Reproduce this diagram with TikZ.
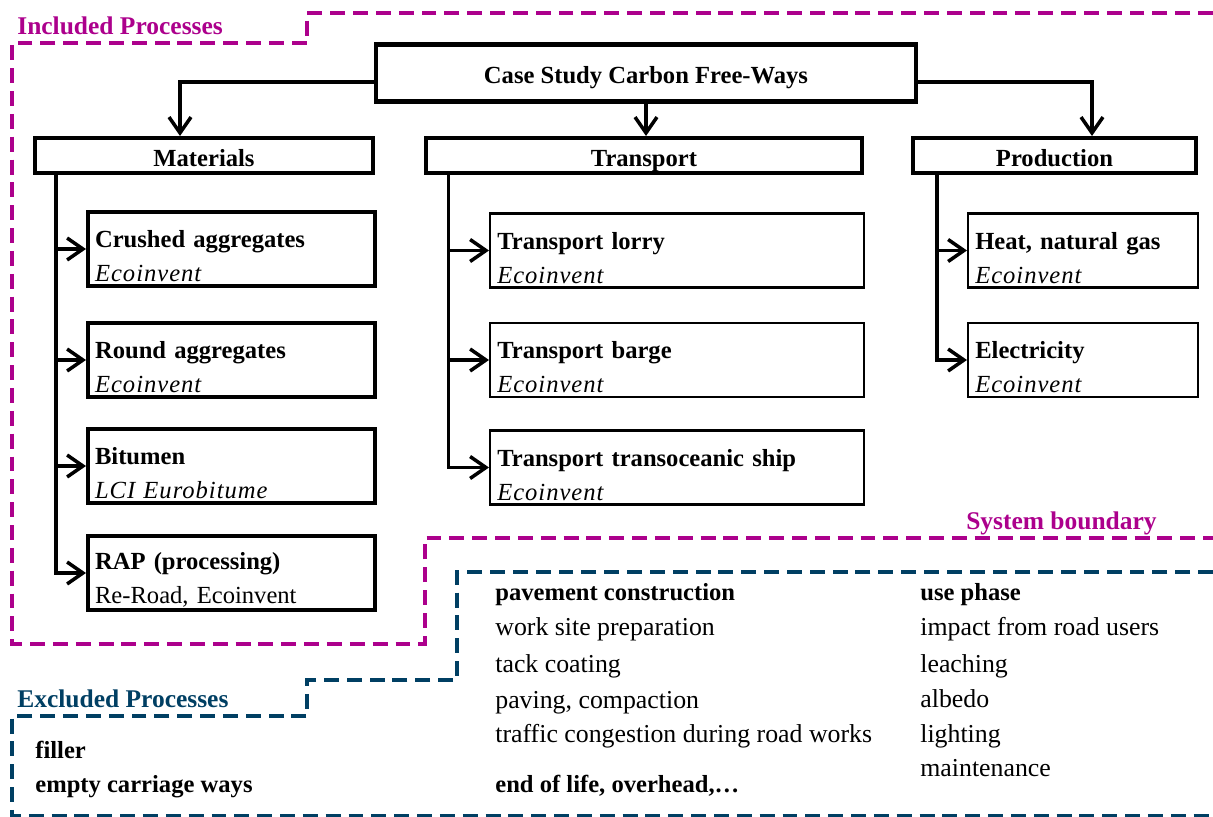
\documentclass[tikz,border=0pt]{standalone}
\usepackage{fontspec}
\setmainfont{Liberation Serif}
\usetikzlibrary{positioning,arrows.meta,calc}
\definecolor{inclmag}{RGB}{172,0,140}
\definecolor{exclblue}{RGB}{0,63,99}
\newcommand{\cfwfont}{\fontsize{14}{19.3}\selectfont}
\newcommand{\src}[1]{{\itshape\addfontfeature{LetterSpace=4}#1}}
\tikzset{>={Straight Barb[length=9pt,width=12.5pt]}}

\begin{document}
\begin{tikzpicture}[x=0.02cm,y=-0.02cm,font=\cfwfont,
  hdbox/.style={draw,line width=2.3pt,font=\cfwfont\bfseries,inner sep=0pt,minimum height=0.7cm,
    text height=12pt,text depth=0pt},
  proc/.style={draw,line width=2.3pt,anchor=west,align=left,inner xsep=4pt,inner ysep=0pt,
    minimum height=1.48cm,execute at begin node={\rule{0pt}{18pt}}},
  lightproc/.style={proc,line width=1.4pt},
  link/.style={->,line width=2pt},
  boundary/.style={line width=2pt,dash pattern=on 8.5pt off 4.5pt},
  item/.style={anchor=base west,inner sep=0pt},
  entry/.style={item,font=\fontsize{14.7}{19.3}\selectfont},
  tag/.style={item,font=\fontsize{14.5}{19.3}\selectfont\bfseries}]
\useasboundingbox (0,0) rectangle (1213,817);
% system boundaries
\draw[boundary,inclmag] (1213,13) -- (307,13) -- (307,43) -- (12,43) -- (12,644)
  -- (425,644) -- (425,538) -- (1213,538);
\draw[boundary,exclblue] (1213,572) -- (457,572) -- (457,680) -- (307,680) -- (307,716)
  -- (12,716) -- (12,816) -- (1213,816);
\node[tag,inclmag] (incl) at (17,35) {Included Processes};
\node[tag,exclblue] (excl) at (17,707) {Excluded Processes};
\node[tag,inclmag,anchor=base east] (sysb) at (1157,529) {System boundary};
% top level
\node[hdbox,minimum width=10.8cm,minimum height=1.14cm] (case) at (646,73) {Case Study Carbon Free-Ways};
\node[hdbox,minimum width=6.76cm] (mat) at (204,155.5) {Materials};
\node[hdbox,minimum width=8.74cm] (trans) at (644,155.5) {Transport};
\node[hdbox,minimum width=5.66cm] (prod) at (1054.5,155.5) {Production};
\draw[link] ([yshift=-0.18cm]case.west) -| ([xshift=-0.48cm]mat.north);
\draw[link] (case.south) -- (case.south |- trans.north);
\draw[link] ([yshift=-0.18cm]case.east) -| ([xshift=0.75cm]prod.north);
% materials
\node[proc,text width=5.46cm] (crushed) at (86,249) {\textbf{Crushed aggregates}\\\src{Ecoinvent}};
\node[proc,text width=5.46cm] (round) at (86,360) {\textbf{Round aggregates}\\\src{Ecoinvent}};
\node[proc,text width=5.46cm] (bitumen) at (86,466) {\textbf{Bitumen}\\\src{LCI Eurobitume}};
\node[proc,text width=5.46cm] (rap) at (86,573) {\textbf{RAP (processing)}\\Re-Road, Ecoinvent};
\draw[link] ([xshift=0.46cm]mat.south west) |- (crushed.west);
\draw[link] ([xshift=0.46cm]mat.south west) |- (round.west);
\draw[link] ([xshift=0.46cm]mat.south west) |- (bitumen.west);
\draw[link] ([xshift=0.46cm]mat.south west) |- (rap.west);
% transport
\node[lightproc,text width=7.2cm] (lorry) at (489,250.5) {\textbf{Transport lorry}\\\src{Ecoinvent}};
\node[lightproc,text width=7.2cm] (barge) at (489,360) {\textbf{Transport barge}\\\src{Ecoinvent}};
\node[lightproc,text width=7.2cm] (ship) at (489,467.5) {\textbf{Transport transoceanic ship}\\\src{Ecoinvent}};
\draw[link] ([xshift=0.5cm]trans.south west) |- (lorry.west);
\draw[link] ([xshift=0.5cm]trans.south west) |- (barge.west);
\draw[link] ([xshift=0.5cm]trans.south west) |- (ship.west);
% production
\node[lightproc,text width=4.32cm] (heat) at (967,250.5) {\textbf{Heat, natural gas}\\\src{Ecoinvent}};
\node[lightproc,text width=4.32cm] (elec) at (967,360) {\textbf{Electricity}\\\src{Ecoinvent}};
\draw[link] ([xshift=0.52cm]prod.south west) |- (heat.west);
\draw[link] ([xshift=0.52cm]prod.south west) |- (elec.west);
% excluded
\node[item] (filler) at (35,758) {\textbf{filler}};
\node[item] (empty) at (35,792) {\textbf{empty carriage ways}};
\node[item] (c1) at (495,600) {\textbf{pavement construction}};
\node[entry] (c2) at (495,635) {work site preparation};
\node[entry] (c3) at (495,672) {tack coating};
\node[entry] (c4) at (495,708) {paving, compaction};
\node[entry] (c5) at (495,742) {traffic congestion during road works};
\node[item] (c6) at (495,792) {\textbf{end of life, overhead,\dots}};
\node[item] (u1) at (920,600) {\textbf{use phase}};
\node[entry] (u2) at (920,635) {impact from road users};
\node[entry] (u3) at (920,672) {leaching};
\node[entry] (u4) at (920,707) {albedo};
\node[entry] (u5) at (920,742) {lighting};
\node[entry] (u6) at (920,776) {maintenance};
\end{tikzpicture}
\end{document}
